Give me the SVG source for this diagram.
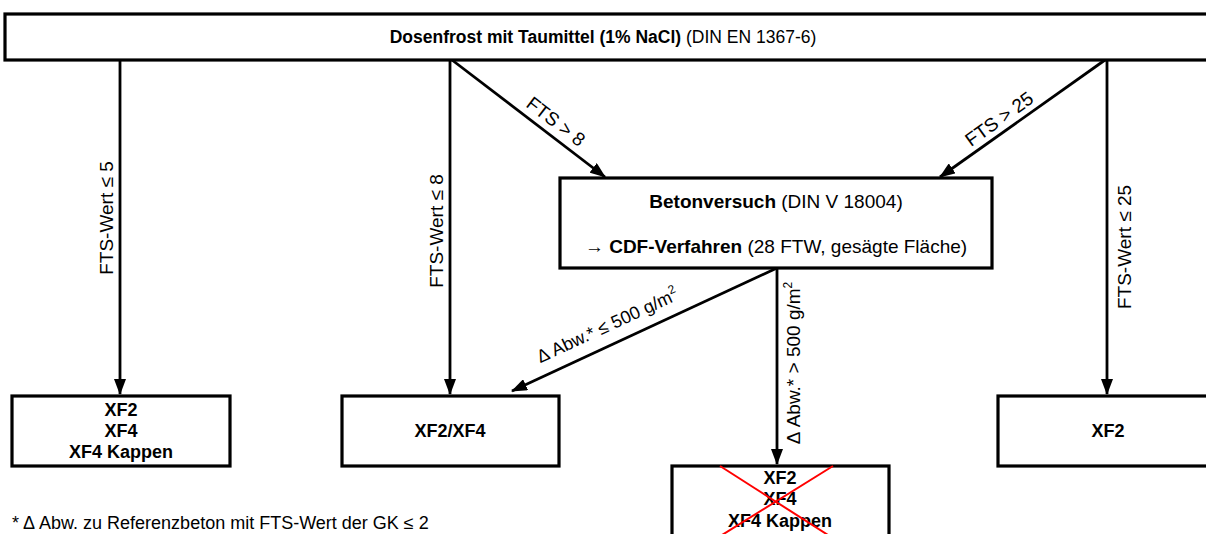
<svg xmlns="http://www.w3.org/2000/svg" width="1206" height="534" viewBox="0 0 1206 534">
<style>
.box{fill:#fff;stroke:#000;stroke-width:3.2}
.con{stroke:#000;stroke-width:2.8;fill:none}
text{font-family:"Liberation Sans",Arial,sans-serif;font-size:19px;fill:#000}
.b{font-weight:bold}
.c{text-anchor:middle}
.s18{font-size:18px}
.s17{font-size:17.5px}
.xf{font-size:18px;font-weight:bold;text-anchor:middle}
.sup{font-size:12px}
.x{stroke:#f00;stroke-width:2;fill:none}
</style>
<defs>
<marker id="ah" markerUnits="userSpaceOnUse" markerWidth="16" markerHeight="12" refX="15" refY="6" orient="auto">
<path d="M0,0 L16,6 L0,12 z" fill="#000"/>
</marker>
</defs>
<rect width="1206" height="534" fill="#fff"/>
<g id="connectors">
<line class="con" x1="120" y1="60" x2="120" y2="394" marker-end="url(#ah)"/>
<line class="con" x1="450" y1="60" x2="450" y2="394" marker-end="url(#ah)"/>
<line class="con" x1="1107" y1="60" x2="1107" y2="394" marker-end="url(#ah)"/>
<line class="con" x1="452" y1="60" x2="605" y2="177" marker-end="url(#ah)"/>
<line class="con" x1="1105" y1="60" x2="940" y2="177" marker-end="url(#ah)"/>
<line class="con" x1="777" y1="268" x2="512" y2="391" marker-end="url(#ah)"/>
<line class="con" x1="777" y1="268" x2="777" y2="464" marker-end="url(#ah)"/>
<text class="c" transform="translate(113,218) rotate(-90)">FTS-Wert ≤ 5</text>
<text class="c" transform="translate(443,231) rotate(-90)">FTS-Wert ≤ 8</text>
<text class="c" transform="translate(1131,247) rotate(-90)">FTS-Wert ≤ 25</text>
<text class="c" transform="translate(800,363) rotate(-90)">Δ Abw.* &gt; 500 g/m<tspan class="sup" dy="-8">2</tspan></text>
<text class="c" transform="translate(547,133) rotate(37.6)" y="-8">FTS &gt; 8</text>
<text class="c" transform="translate(1007,130) rotate(-35.6)" y="-7">FTS &gt; 25</text>
<text class="c s18" transform="translate(615,342) rotate(-24.8)" y="-12">Δ Abw.* ≤ 500 g/m<tspan class="sup" dy="-8">2</tspan></text>
</g>
<g id="top">
<rect class="box" x="5" y="14" width="1210" height="46"/>
<text class="c s17" x="603" y="43"><tspan class="b">Dosenfrost mit Taumittel (1% NaCl)</tspan> (DIN EN 1367-6)</text>
</g>
<g id="betonversuch">
<rect class="box" x="560" y="178" width="432" height="90"/>
<text class="c" x="776" y="208"><tspan class="b">Betonversuch</tspan> (DIN V 18004)</text>
<text class="c" x="776" y="253">→ <tspan class="b">CDF-Verfahren</tspan> (28 FTW, gesägte Fläche)</text>
</g>
<g id="xf-left">
<rect class="box" x="12" y="396" width="218" height="70"/>
<text class="xf" x="121" y="416">XF2</text>
<text class="xf" x="121" y="437">XF4</text>
<text class="xf" x="121" y="458">XF4 Kappen</text>
</g>
<g id="xf2xf4">
<rect class="box" x="342" y="396" width="217" height="70"/>
<text class="xf" x="450" y="437">XF2/XF4</text>
</g>
<g id="xf2-right">
<rect class="box" x="998" y="396" width="220" height="70"/>
<text class="xf" x="1108" y="437">XF2</text>
</g>
<g id="xf-crossed">
<rect class="box" x="672" y="466" width="217" height="80"/>
<text class="xf" x="780" y="484">XF2</text>
<text class="xf" x="780" y="505">XF4</text>
<text class="xf" x="780" y="527">XF4 Kappen</text>
<line class="x" x1="720" y1="466" x2="828" y2="535"/>
<line class="x" x1="833" y1="466" x2="722" y2="535"/>
</g>
<g id="footnote">
<text class="s18" x="12" y="529">* Δ Abw. zu Referenzbeton mit FTS-Wert der GK ≤ 2</text>
</g>
</svg>
